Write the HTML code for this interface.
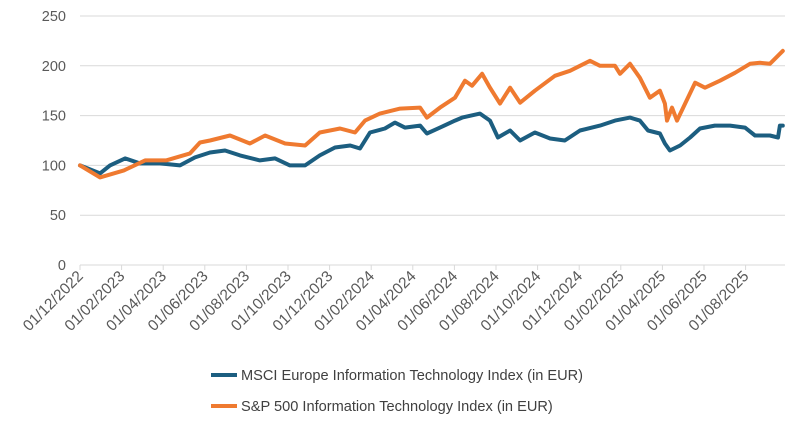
<!DOCTYPE html>
<html><head><meta charset="utf-8">
<style>
html,body{margin:0;padding:0;background:#fff;}
svg{display:block;font-family:"Liberation Sans",Arial,sans-serif;}
</style></head>
<body>
<svg id="chart" width="800" height="421" viewBox="0 0 800 421" xmlns="http://www.w3.org/2000/svg">
<g id="grid"></g>
<g id="yaxis"></g>
<g id="xaxis"></g>
<g id="series"></g>
<g id="legend">
  <g>
    <line x1="211" y1="375" x2="237" y2="375" stroke="#1c5e80" stroke-width="4"/>
    <text x="241" y="380" font-size="14.6" fill="#404040">MSCI Europe Information Technology Index (in EUR)</text>
  </g>
  <g>
    <line x1="211" y1="406" x2="237" y2="406" stroke="#ef7a30" stroke-width="4"/>
    <text x="241" y="411" font-size="14.6" fill="#404040">S&amp;P 500 Information Technology Index (in EUR)</text>
  </g>
</g>
</svg>
<script>
const yTicks = [0, 50, 100, 150, 200, 250];
const xTickLabels = ["01/12/2022","01/02/2023","01/04/2023","01/06/2023","01/08/2023","01/10/2023","01/12/2023","01/02/2024","01/04/2024","01/06/2024","01/08/2024","01/10/2024","01/12/2024","01/02/2025","01/04/2025","01/06/2025","01/08/2025"];
const xTickMonths = [0,2,4,6,8,10,12,14,16,18,20,22,24,26,28,30,32];
// months since 01/12/2022
const spMonths = [0,0.96,2.11,3.13,4.14,5.29,5.77,6.25,7.21,8.17,8.9,9.86,10.82,11.53,12.5,13.22,13.7,14.42,15.39,16.35,16.68,17.31,18.03,18.51,18.85,19.33,19.71,20.19,20.68,21.16,21.87,22.83,23.56,24.52,25.0,25.72,25.96,26.44,26.92,27.4,27.88,28.12,28.22,28.46,28.7,29.09,29.57,30.05,30.77,31.49,32.21,32.69,33.17,33.65,33.79];
const spValues = [100,88,95,105,105,112,123,125,130,122,130,122,120,133,137,133,145,152,157,158,148,158,168,185,180,192,178,162,178,163,175,190,195,205,200,200,192,202,188,168,175,162,145,158,145,162,183,178,185,193,202,203,202,212,215];
const msciMonths = [0,0.96,1.44,2.17,2.88,3.84,4.81,5.53,6.25,6.97,7.69,8.65,9.38,10.09,10.82,11.53,12.26,12.99,13.46,13.94,14.66,15.14,15.62,16.35,16.68,17.31,18.03,18.37,19.23,19.71,20.09,20.68,21.16,21.87,22.6,23.31,24.04,25.0,25.72,26.44,26.92,27.31,27.88,28.12,28.36,28.85,29.33,29.81,30.52,31.25,31.97,32.45,33.17,33.56,33.65,33.79];
const msciValues = [100,92,100,107,102,102,100,108,113,115,110,105,107,100,100,110,118,120,117,133,137,143,138,140,132,138,145,148,152,145,128,135,125,133,127,125,135,140,145,148,145,135,132,122,115,120,128,137,140,140,138,130,130,128,140,140];

const NS = "http://www.w3.org/2000/svg";
const X0 = 80, PX_PER_MONTH = 20.8, Y0 = 265, PX_PER_UNIT = 249/250;
function xScale(m){ return X0 + m * PX_PER_MONTH; }
function yScale(v){ return Y0 - v * PX_PER_UNIT; }
function mk(tag, attrs, parent){ const e = document.createElementNS(NS, tag); for (const k in attrs) e.setAttribute(k, attrs[k]); parent.appendChild(e); return e; }

const grid = document.getElementById('grid');
const yaxis = document.getElementById('yaxis');
yTicks.forEach(v => {
  const y = yScale(v);
  const l = mk('line', {x1: 80, x2: 785, y1: y, y2: y, stroke: '#d9d9d9', 'stroke-width': 1}, grid);
  
  
  const t = mk('text', {x: 66, y: y + 5, 'text-anchor': 'end', 'font-size': 14.5, fill: '#595959'}, yaxis);
  t.textContent = v;
  
  
});

const xaxis = document.getElementById('xaxis');
xTickMonths.forEach((m, i) => {
  const x = xScale(m);
  const tk = mk('line', {x1: x, x2: x, y1: Y0, y2: Y0 + 5, stroke: '#d9d9d9', 'stroke-width': 1}, xaxis);
  
  
  const t = mk('text', {x: x + 4, y: Y0 + 12, 'text-anchor': 'end', 'font-size': 15.5, fill: '#595959', transform: `rotate(-45 ${x + 4} ${Y0 + 12})`}, xaxis);
  t.textContent = xTickLabels[i];
  
  
});

const series = document.getElementById('series');
function drawLine(ms, vs, color, name){
  const d = ms.map((m, i) => (i ? 'L' : 'M') + xScale(m).toFixed(1) + ' ' + yScale(vs[i]).toFixed(1)).join(' ');
  const p = mk('path', {d: d, fill: 'none', stroke: color, 'stroke-width': 4, 'stroke-linejoin': 'round', 'stroke-linecap': 'round'}, series);
  
  
}
drawLine(msciMonths, msciValues, '#1c5e80', 'msci-europe-it-line');
drawLine(spMonths, spValues, '#ef7a30', 'sp500-it-line');
</script>
</body></html>
